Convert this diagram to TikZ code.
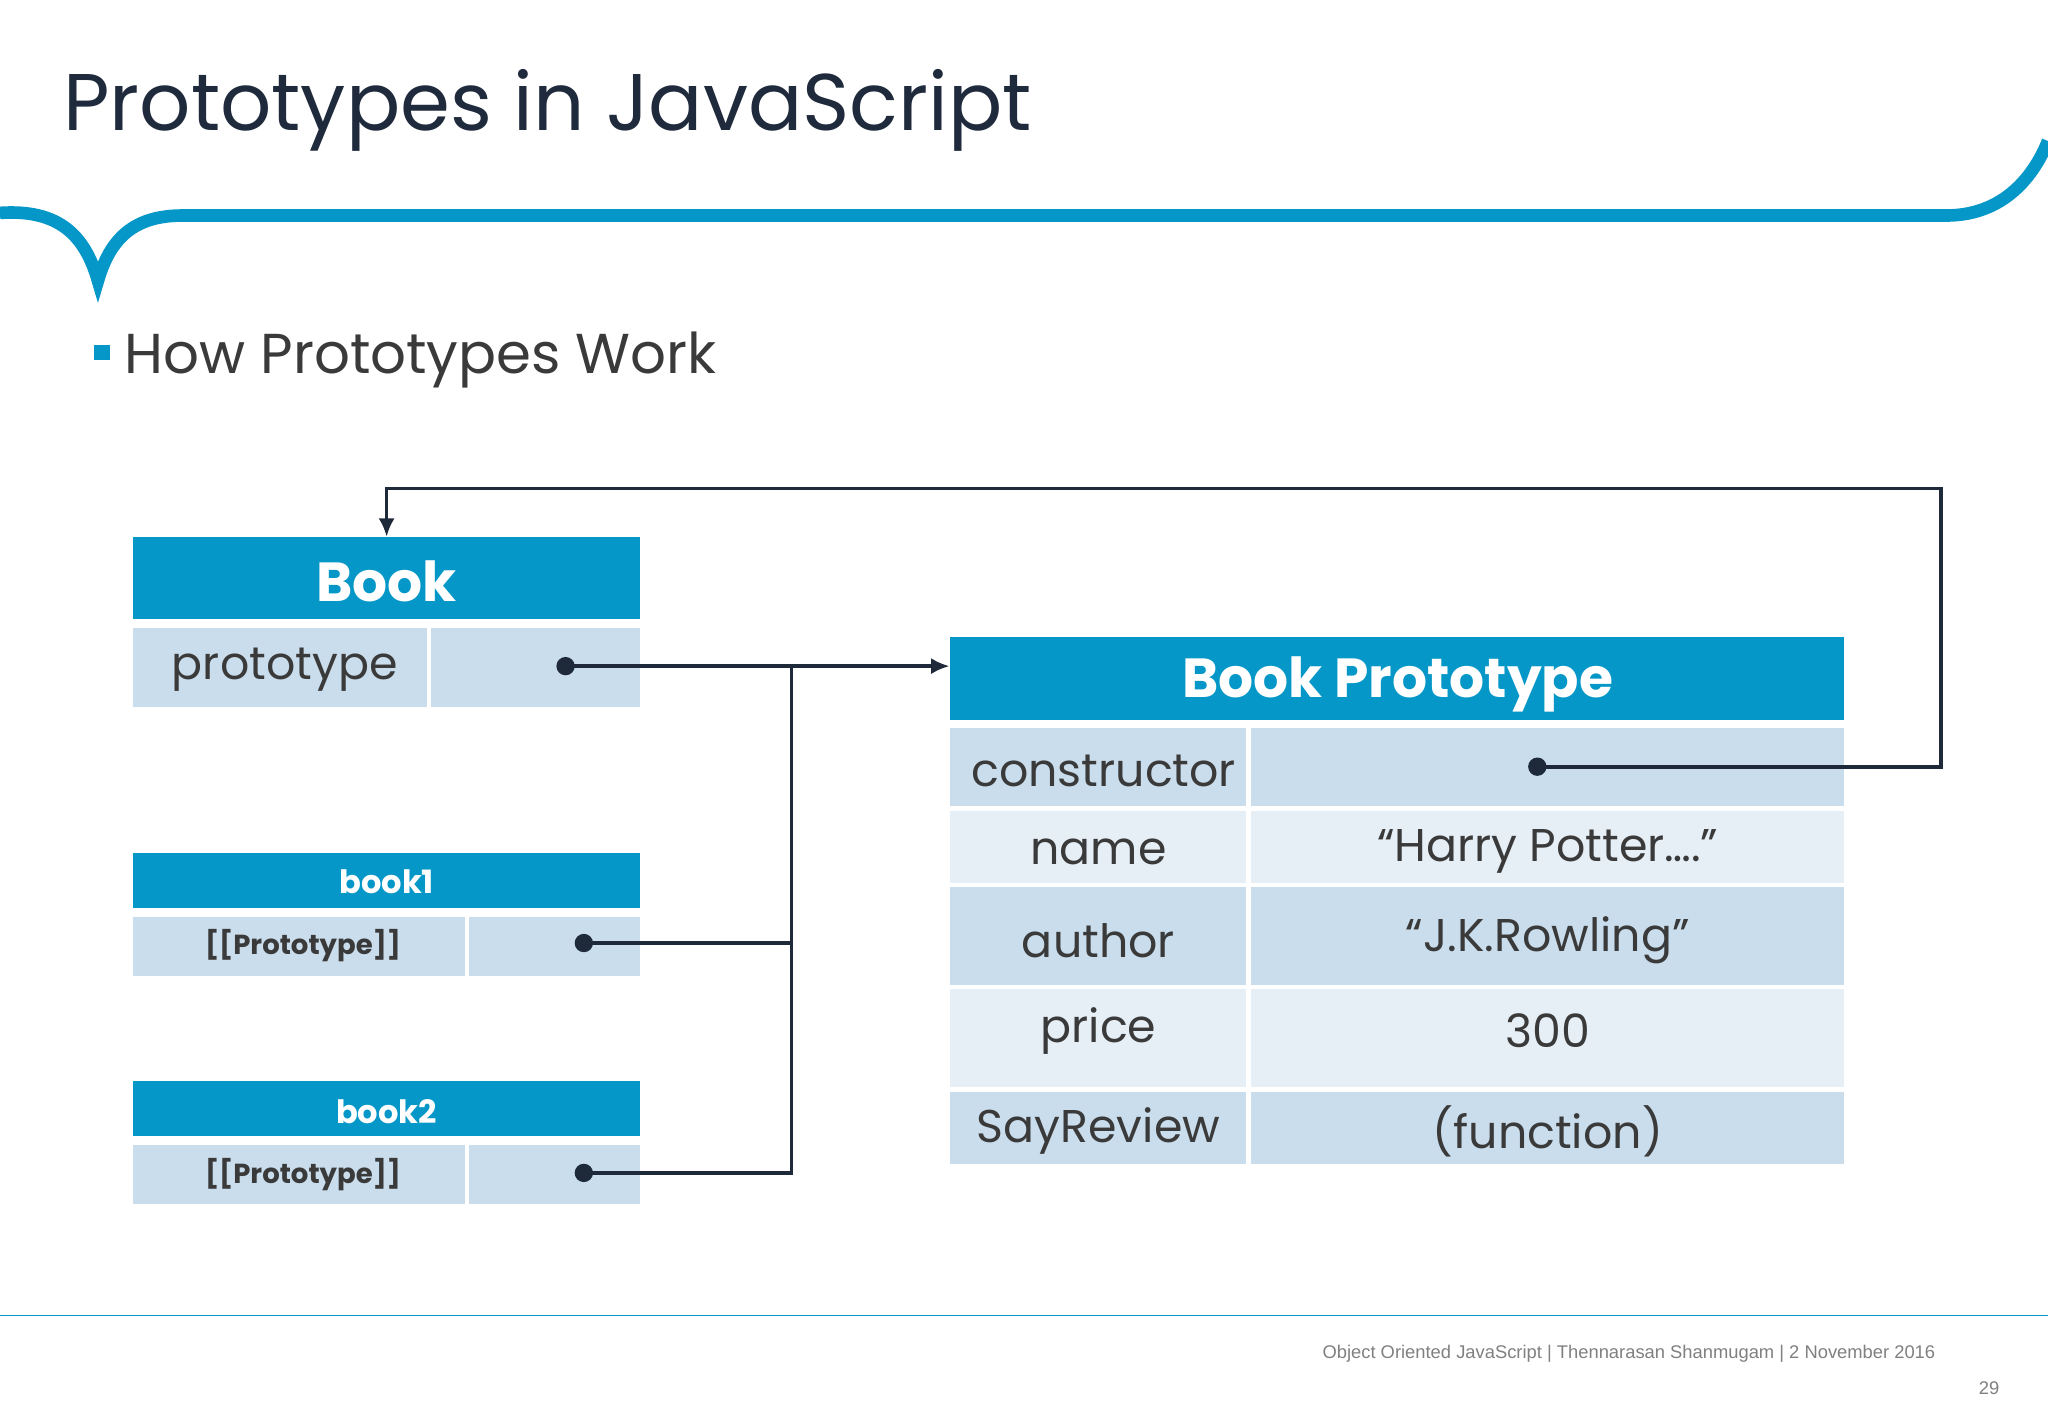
\documentclass[tikz,border=0pt]{standalone}
\usepackage{fontspec}
\setmainfont{Poppins}
\newfontfamily\footfont{Liberation Sans}
\usetikzlibrary{arrows.meta}
\definecolor{hdr}{HTML}{0597C7}
\definecolor{rowd}{HTML}{CADDEC}
\definecolor{rowl}{HTML}{E6EEF6}
\definecolor{txt}{HTML}{3A3A3A}
\definecolor{ttl}{HTML}{1F2A3C}
\definecolor{ln}{HTML}{1E2A3A}
\begin{document}
\begin{tikzpicture}[x=0.02cm,y=-0.02cm,
  hbox/.style={fill=hdr,draw=none},
  rbox/.style={fill=rowd,draw=none},
  lbox/.style={fill=rowl,draw=none},
  conn/.style={draw=ln,line width=1.6pt},
  dotc/.style={circle,fill=ln,inner sep=0pt,minimum size=8pt},
  htxt/.style={text=white,font=\bfseries\fontsize{24}{28}\selectfont},
  stxt/.style={text=white,font=\bfseries\fontsize{14}{16}\selectfont},
  ctxt/.style={text=txt,font=\fontsize{20}{24}\selectfont},
  btxt/.style={text=txt,font=\bfseries\fontsize{12}{16}\selectfont}]
\useasboundingbox (0,0) rectangle (1568,1085);
\fill[white] (0,0) rectangle (1568,1085);
% title
\node[anchor=base west,text=ttl,font=\fontsize{35}{40}\selectfont,inner sep=0] (title) at (48,100) {Prototypes in JavaScript};
\draw[hdr,line width=5.5pt] (0,163) .. controls (45,160) and (65,180) .. (75,215) .. controls (85,180) and (105,165) .. (140,165) -- (1490,165) .. controls (1530,165) and (1555,140) .. (1568,108);
\fill[hdr] (72,264) rectangle (84,276);
\node[anchor=base west,text=txt,font=\fontsize{24.5}{30}\selectfont,inner sep=0] (sub) at (95,286) {How Prototypes Work};
% Book
\fill[hbox] (102,411) rectangle (490,474);
\node[htxt] (bookh) at (296,445) {Book};
\fill[rbox] (102,481) rectangle (490,541);
\fill[white] (327,481) rectangle (330,541);
\node[ctxt] (bookp) at (218,513) {prototype};
\node[dotc] (d0) at (433,510) {};
% book1
\fill[hbox] (102,653) rectangle (490,695);
\node[stxt] (b1h) at (296,675) {book1};
\fill[rbox] (102,702) rectangle (490,747);
\fill[white] (356,702) rectangle (359,747);
\node[btxt] (b1p) at (232,724) {[[Prototype]]};
\node[dotc] (d1) at (447,722) {};
% book2
\fill[hbox] (102,828) rectangle (490,870);
\node[stxt] (b2h) at (296,851) {book2};
\fill[rbox] (102,877) rectangle (490,922);
\fill[white] (356,877) rectangle (359,922);
\node[btxt] (b2p) at (232,899) {[[Prototype]]};
\node[dotc] (d2) at (447,898) {};
% Book Prototype
\fill[hbox] (727,488) rectangle (1412,551);
\node[htxt] (bph) at (1070,524) {Book Prototype};
\fill[rbox] (727,557) rectangle (1412,617);
\fill[lbox] (727,621) rectangle (1412,676);
\fill[rbox] (727,679) rectangle (1412,754);
\fill[lbox] (727,757) rectangle (1412,832);
\fill[rbox] (727,836) rectangle (1412,891);
\fill[white] (954,557) rectangle (958,891);
\node[ctxt] (c1) at (845,590) {constructor};
\node[ctxt] (c2) at (841,652) {name};
\node[ctxt] (c3) at (841,720) {author};
\node[ctxt] (c4) at (841,789) {price};
\node[ctxt] (c5) at (841,866) {SayReview};
\node[ctxt] (v2) at (1185,652) {“Harry Potter….”};
\node[ctxt] (v3) at (1185,720) {“J.K.Rowling”};
\node[ctxt] (v4) at (1185,789) {300};
\node[ctxt] (v5) at (1185,866) {(function)};
\node[dotc] (d3) at (1177,587) {};
\coordinate (tgt) at (727,510);
\coordinate (jn) at (606,510);
% connectors
\draw[conn,-{Latex[length=8pt,width=7pt]}] (d0.center) -- (tgt);
\draw[conn] (d1.center) -- (606,722) -- (jn);
\draw[conn] (d2.center) -- (606,898) -- (606,722);
\draw[conn,-{Latex[length=8pt,width=7pt]}] (d3.center) -- (1486,587) -- (1486,374) -- (296,374) -- (296,411);
% footer
\draw[hdr,line width=0.6pt] (0,1007) -- (1568,1007);
\node[anchor=base east,text=gray,font=\footfont\fontsize{8}{9}\selectfont,inner sep=0] (foot) at (1482,1040) {Object Oriented JavaScript | Thennarasan Shanmugam | 2 November 2016};
\node[anchor=base east,text=gray,font=\footfont\fontsize{8}{9}\selectfont,inner sep=0] (pg) at (1531,1068) {29};
\end{tikzpicture}
\end{document}
